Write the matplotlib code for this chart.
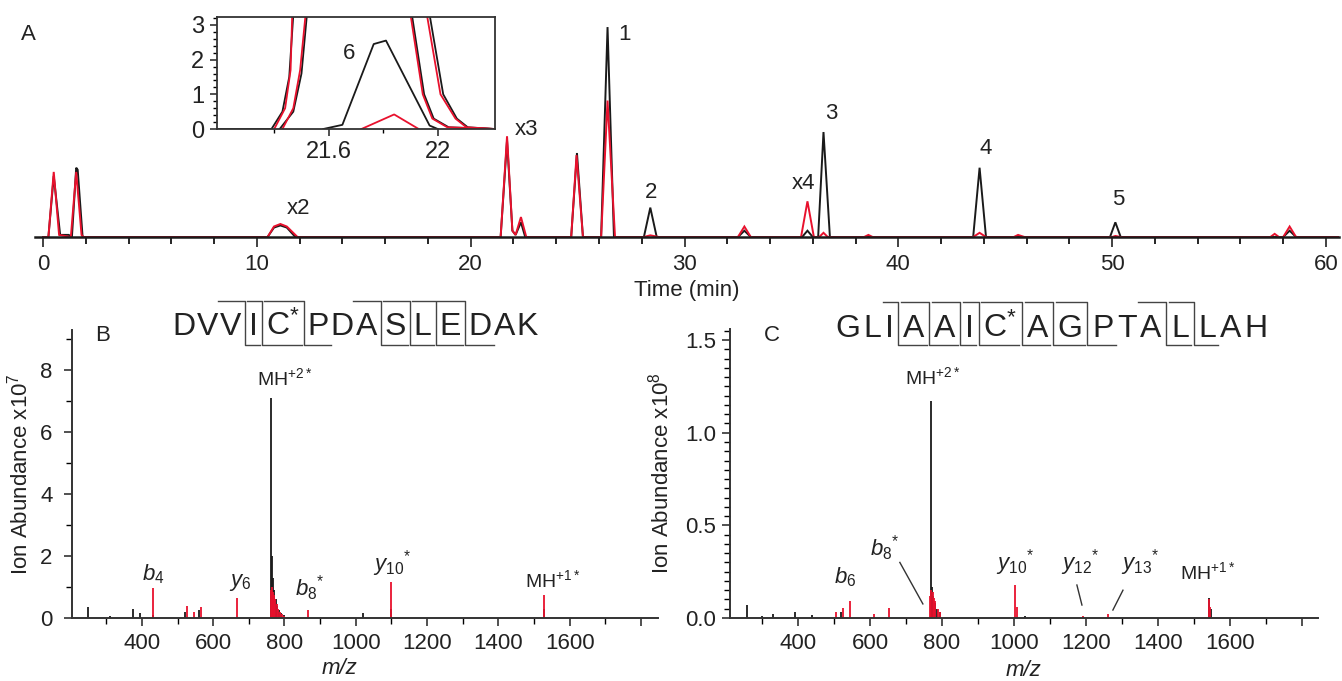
import matplotlib
matplotlib.use("Agg")
import matplotlib.pyplot as plt
from matplotlib.lines import Line2D
from matplotlib.ticker import MultipleLocator, FixedLocator, FixedFormatter, FormatStrFormatter

plt.rcParams["font.family"] = ["Liberation Sans", "DejaVu Sans"]
plt.rcParams["mathtext.fontset"] = "custom"
plt.rcParams["mathtext.rm"] = "Liberation Sans"
plt.rcParams["mathtext.it"] = "Liberation Sans:italic"
plt.rcParams["mathtext.bf"] = "Liberation Sans:bold"

W, H = 1342, 681
INK = "#222222"
BLACK = "#1a1a1a"
RED = "#e8112d"

# ---- panel A: chromatogram, (time min, intensity % of peak 1) ----
chrom_black = [(0.0, 0), (0.25, 0), (0.5, 29), (0.8, 1), (1.2, 1), (1.35, 0),
               (1.55, 33), (1.62, 32), (1.85, 0), (10.5, 0), (10.8, 4.5),
               (11.1, 5.5), (11.4, 4.5), (11.8, 0), (21.4, 0), (21.7, 46),
               (21.95, 3), (22.1, 1), (22.35, 7), (22.55, 0), (24.7, 0),
               (24.97, 40), (25.25, 0), (26.1, 0), (26.4, 100), (26.7, 0),
               (28.1, 0), (28.4, 14), (28.7, 0), (32.5, 0), (32.8, 3), (33.1, 0),
               (35.5, 0), (35.75, 3), (36.0, 0), (36.25, 0), (36.5, 50), (36.8, 0),
               (43.5, 0), (43.8, 33), (44.1, 0), (49.9, 0), (50.15, 7), (50.4, 0),
               (58.0, 0), (58.3, 3), (58.6, 0), (60.6, 0)]
chrom_red = [(0.0, 0), (0.25, 0), (0.5, 31), (0.75, 1), (1.3, 0), (1.55, 31),
             (1.8, 1), (1.9, 0), (10.5, 0), (10.8, 5), (11.1, 6.2), (11.4, 5),
             (11.9, 0), (21.4, 0), (21.7, 48), (21.95, 3), (22.1, 1), (22.35, 9.5),
             (22.6, 0), (24.7, 0), (24.95, 39), (25.25, 0), (26.1, 0), (26.4, 65),
             (26.75, 0), (28.1, 0), (28.4, 0.8), (28.8, 0), (32.5, 0), (32.8, 5),
             (33.1, 0), (35.45, 0), (35.75, 17), (36.05, 0), (36.3, 0), (36.5, 2),
             (36.7, 0), (38.4, 0), (38.6, 1), (38.8, 0), (43.5, 0), (43.8, 2),
             (44.1, 0), (45.4, 0), (45.6, 1), (45.9, 0), (50.0, 0), (50.15, 0.5),
             (50.4, 0), (57.4, 0), (57.6, 1.5), (57.8, 0), (58.0, 0), (58.3, 5),
             (58.6, 0), (60.6, 0)]
peak_labels = ["1", "2", "3", "4", "5", "x2", "x3", "x4"]
peak_label_pos = [(27.17, 96.7), (28.44, 21.4), (36.86, 59), (44.1, 42),
                  (50.28, 18), (11.93, 13.8), (22.59, 51.4), (35.55, 25.7)]

# ---- inset: zoom of 21.2-22.2 min ----
inset_black = [
    [(21.19, 0), (21.39, 0), (21.43, 0.5), (21.455, 1.5), (21.47, 3.3), (21.475, 4)],
    [(21.42, 0), (21.47, 0.5), (21.50, 1.6), (21.52, 3.3), (21.525, 4)],
    [(21.58, 0), (21.65, 0.12), (21.765, 2.45), (21.81, 2.55), (21.97, 0.1), (22.0, 0)],
    [(21.90, 4), (21.905, 3.3), (21.95, 1.0), (21.985, 0.3), (22.04, 0.05), (22.21, 0)],
    [(21.965, 4), (21.97, 3.3), (22.02, 1.0), (22.07, 0.3), (22.11, 0.05), (22.21, 0)],
]
inset_red = [
    [(21.40, 0), (21.44, 0.6), (21.46, 1.7), (21.466, 3.3), (21.47, 4)],
    [(21.43, 0), (21.47, 0.6), (21.495, 1.7), (21.515, 3.3), (21.52, 4)],
    [(21.72, 0), (21.84, 0.42), (21.93, 0)],
    [(21.895, 4), (21.90, 3.3), (21.945, 1.0), (21.98, 0.3), (22.035, 0.05), (22.21, 0)],
    [(21.955, 4), (21.96, 3.3), (22.01, 1.0), (22.065, 0.3), (22.105, 0.05), (22.21, 0)],
]

# ---- panel B: MS/MS spectrum (m/z, abundance x1e7) ----
specB_black = [(249, 0.37), (310, 0.05), (375, 0.3), (395, 0.15), (430, 0.1),
               (520, 0.2), (560, 0.25), (763, 7.1), (766, 2.0), (769, 1.3),
               (772, 0.9), (776, 0.6), (780, 0.4), (785, 0.25), (790, 0.15),
               (800, 0.1), (1020, 0.15), (1098, 0.3), (1528, 0.3)]
specB_red = [(431, 0.97), (527, 0.4), (545, 0.2), (566, 0.35), (668, 0.65),
             (762, 0.9), (765, 1.0), (768, 0.85), (771, 0.75), (774, 0.6),
             (778, 0.45), (782, 0.3), (787, 0.2), (793, 0.12), (800, 0.06),
             (865, 0.27), (1098, 1.17), (1528, 0.74)]
labelsB = [r"$b_{\mathrm{4}}$", r"$y_{\mathrm{6}}$", r"MH$^{\mathrm{+2*}}$",
           r"$b_{\mathrm{8}}{}^{*}$", r"$y_{\mathrm{10}}{}^{*}$", r"MH$^{\mathrm{+1*}}$"]
labelsB_pos = [(431, 1.4), (675, 1.15), (801, 7.75), (872, 0.95), (1102, 1.75), (1553, 1.23)]
seqB = ["D", "V", "V", "I", "C*", "P", "D", "A", "S", "L", "E", "D", "A", "K"]
cutsB = [3, 4, 5, 8, 9, 10, 11]

# ---- panel C: MS/MS spectrum (m/z, abundance x1e8) ----
specC_black = [(258, 0.07), (300, 0.01), (330, 0.02), (392, 0.035), (440, 0.015),
               (520, 0.03), (769, 1.17), (772, 0.17), (776, 0.12), (780, 0.08),
               (786, 0.05), (795, 0.03), (1030, 0.01), (1542, 0.11), (1548, 0.05)]
specC_red = [(505, 0.03), (525, 0.055), (545, 0.09), (610, 0.02), (653, 0.055),
             (766, 0.12), (770, 0.15), (774, 0.14), (778, 0.11), (782, 0.09),
             (788, 0.05), (795, 0.03), (1003, 0.178), (1008, 0.06), (1192, 0.012),
             (1261, 0.02), (1542, 0.1), (1546, 0.06)]
labelsC = [r"MH$^{\mathrm{+2*}}$", r"$b_{\mathrm{6}}$", r"$b_{\mathrm{8}}{}^{*}$",
           r"$y_{\mathrm{10}}{}^{*}$", r"$y_{\mathrm{12}}{}^{*}$",
           r"$y_{\mathrm{13}}{}^{*}$", r"MH$^{\mathrm{+1*}}$"]
labelsC_pos = [(775, 1.30), (530, 0.22), (642, 0.375), (1003, 0.30), (1183, 0.30),
               (1350, 0.30), (1539, 0.248)]
leadersC = [((683, 0.30), (747, 0.076)), ((1175, 0.178), (1189, 0.07)),
            ((1303, 0.15), (1275, 0.043))]
seqC = ["G", "L", "I", "A", "A", "I", "C*", "A", "G", "P", "T", "A", "L", "L", "A", "H"]
cutsC = [3, 4, 5, 6, 7, 8, 9, 12, 13]

fig = plt.figure(figsize=(W / 100, H / 100), dpi=100)
fig.patch.set_facecolor("white")


def axes_px(left, top, right, bottom, **kw):
    return fig.add_axes([left / W, 1 - bottom / H, (right - left) / W, (bottom - top) / H], **kw)


def unzip(pairs):
    return [p[0] for p in pairs], [p[1] for p in pairs]


def ion_size(lab):
    # fragment ion labels are a touch larger than the MH labels
    return 14 if lab.startswith("MH") else 16


# ---------------- panel A ----------------
axA = axes_px(34.5, 17, 1338.8, 237)
for pairs, col in [(chrom_black, BLACK), (chrom_red, RED)]:
    t, v = unzip(pairs)
    axA.plot(t, v, color=col, lw=1.4, solid_joinstyle="miter")
axA.set_xlim(-0.4, 60.6)
axA.set_ylim(0, 104.8)
for s in ["left", "right", "top"]:
    axA.spines[s].set_visible(False)
axA.spines["bottom"].set_linewidth(1.8)
axA.spines["bottom"].set_color(BLACK)
axA.set_yticks([])
axA.xaxis.set_major_locator(MultipleLocator(10))
axA.xaxis.set_minor_locator(MultipleLocator(2))
axA.tick_params(axis="x", which="major", direction="out", length=7, width=1.2,
                pad=5, labelsize=16, colors=INK)
axA.tick_params(axis="x", which="minor", direction="out", length=5, width=1.2)
axA.set_xlabel("Time (min)", fontsize=16, color=INK)
axA.xaxis.set_label_coords(0.5, -43 / 220)
axA.xaxis.label.set_va("top")
for lab, (x, y) in zip(peak_labels, peak_label_pos):
    axA.text(x, y, lab, ha="center", va="center", fontsize=16, color=INK)
fig.text(28 / W, 1 - 35 / H, "A", fontsize=16, ha="center", va="center", color=INK)

# ---------------- inset ----------------
axI = axes_px(217, 17, 495, 129)
axI.set_zorder(5)
axI.set_facecolor("white")
for seg in inset_black:
    t, v = unzip(seg)
    axI.plot(t, v, color=BLACK, lw=1.3)
for seg in inset_red:
    t, v = unzip(seg)
    axI.plot(t, v, color=RED, lw=1.3)
axI.set_xlim(21.19, 22.21)
axI.set_ylim(0, 3.23)
for s in axI.spines.values():
    s.set_linewidth(1.3)
    s.set_color("#333333")
axI.xaxis.set_major_locator(FixedLocator([21.6, 22.0]))
axI.xaxis.set_major_formatter(FixedFormatter(["21.6", "22"]))
axI.xaxis.set_minor_locator(FixedLocator([21.4, 21.8]))
axI.yaxis.set_major_locator(MultipleLocator(1))
axI.yaxis.set_minor_locator(MultipleLocator(0.2))
axI.tick_params(which="major", direction="out", length=5, width=1.1, labelsize=17,
                colors=INK, pad=4)
axI.tick_params(which="minor", direction="out", length=3, width=1.0)
axI.text(21.673, 2.19, "6", ha="center", va="center", fontsize=16, color=INK)


# ---------------- spectra ----------------
def spectrum_axes(ax, black, red, xlim, ylim):
    mz, ab = unzip(black)
    ax.vlines(mz, 0, ab, color=BLACK, lw=1.3)
    mz, ab = unzip(red)
    ax.vlines(mz, 0, ab, color=RED, lw=1.3)
    ax.set_xlim(*xlim)
    ax.set_ylim(*ylim)
    ax.spines["right"].set_visible(False)
    ax.spines["top"].set_visible(False)
    for s in ["left", "bottom"]:
        ax.spines[s].set_linewidth(1.4)
        ax.spines[s].set_color("#333333")
    ax.xaxis.set_major_locator(FixedLocator([400, 600, 800, 1000, 1200, 1400, 1600, 1800]))
    ax.xaxis.set_major_formatter(FixedFormatter(["400", "600", "800", "1000", "1200",
                                                 "1400", "1600", ""]))
    ax.xaxis.set_minor_locator(MultipleLocator(100))
    ax.tick_params(which="major", direction="out", length=6, width=1.1,
                   labelsize=16, colors=INK)
    ax.tick_params(which="minor", direction="out", length=4, width=1.0)
    ax.tick_params(axis="x", pad=5)
    ax.set_xlabel("m/z", fontstyle="italic", fontsize=16, color=INK)
    ax.xaxis.label.set_va("top")


axB = axes_px(72, 330, 658, 618)
spectrum_axes(axB, specB_black, specB_red, (204, 1848), (0, 9.3))
axB.yaxis.set_major_locator(MultipleLocator(2))
axB.yaxis.set_minor_locator(MultipleLocator(1))
axB.tick_params(axis="y", pad=8)
axB.xaxis.set_label_coords((340 - 72) / 586, -40 / 288)
axB.set_ylabel(r"Ion Abundance x10$^{7}$", fontsize=16, color=INK)
axB.yaxis.set_label_coords((33 - 72) / 586, 0.5)
for lab, (x, y) in zip(labelsB, labelsB_pos):
    axB.text(x, y, lab, ha="center", va="center", fontsize=ion_size(lab), color=INK,
             clip_on=False)
fig.text(103 / W, 1 - 335 / H, "B", fontsize=16, ha="center", va="center", color=INK)

axC = axes_px(730, 329, 1318, 618)
spectrum_axes(axC, specC_black, specC_red, (211, 1845), (0, 1.56))
axC.yaxis.set_major_locator(MultipleLocator(0.5))
axC.yaxis.set_minor_locator(MultipleLocator(0.05))
axC.yaxis.set_major_formatter(FormatStrFormatter("%.1f"))
axC.tick_params(axis="y", pad=4)
axC.xaxis.set_label_coords(0.5, -42 / 289)
axC.set_ylabel(r"Ion Abundance x10$^{8}$", fontsize=16, color=INK)
axC.yaxis.set_label_coords((673 - 730) / 588, 0.5)
for lab, (x, y) in zip(labelsC, labelsC_pos):
    axC.text(x, y, lab, ha="center", va="center", fontsize=ion_size(lab), color=INK,
             clip_on=False)
for (x0, y0), (x1, y1) in leadersC:
    axC.plot([x0, x1], [y0, y1], color="#333333", lw=1.0)
fig.text(772 / W, 1 - 335 / H, "C", fontsize=16, ha="center", va="center", color=INK)


# ---------------- peptide sequences with fragment markers ----------------
def draw_sequence(residues, cuts, x0, x1, baseline, y_top, y_bot):
    renderer = fig.canvas.get_renderer()
    texts, widths = [], []
    for r in residues:
        s = r"C$^{*}$" if r == "C*" else r
        t = fig.text(0, 1 - baseline / H, s, fontsize=23, ha="left", va="baseline", color=INK)
        texts.append(t)
        widths.append(t.get_window_extent(renderer).width)
    extra = 6.0
    n_gaps = len(residues) - 1
    g0 = (x1 - x0 - sum(widths) - extra * len(cuts)) / n_gaps
    lefts, x = [], x0
    cut_x = {}
    for i, (t, w) in enumerate(zip(texts, widths)):
        t.set_x(x / W)
        lefts.append(x)
        x += w
        if i + 1 in cuts:
            cut_x[i + 1] = x + (g0 + extra) / 2
            x += g0 + extra
        else:
            x += g0
    kw = dict(transform=fig.transFigure, color="#444444", lw=1.0)
    for c, xc in cut_x.items():
        prev_left = lefts[c - 1] - 2
        next_right = lefts[c] + widths[c] + 2
        fig.add_artist(Line2D([prev_left / W, xc / W, xc / W, next_right / W],
                              [1 - y_top / H, 1 - y_top / H, 1 - y_bot / H, 1 - y_bot / H], **kw))


draw_sequence(seqB, cutsB, 172, 538, 335, 301, 345)
draw_sequence(seqC, cutsC, 835, 1268, 337, 302, 345)

fig.savefig("out.png", dpi=100, facecolor="white")
